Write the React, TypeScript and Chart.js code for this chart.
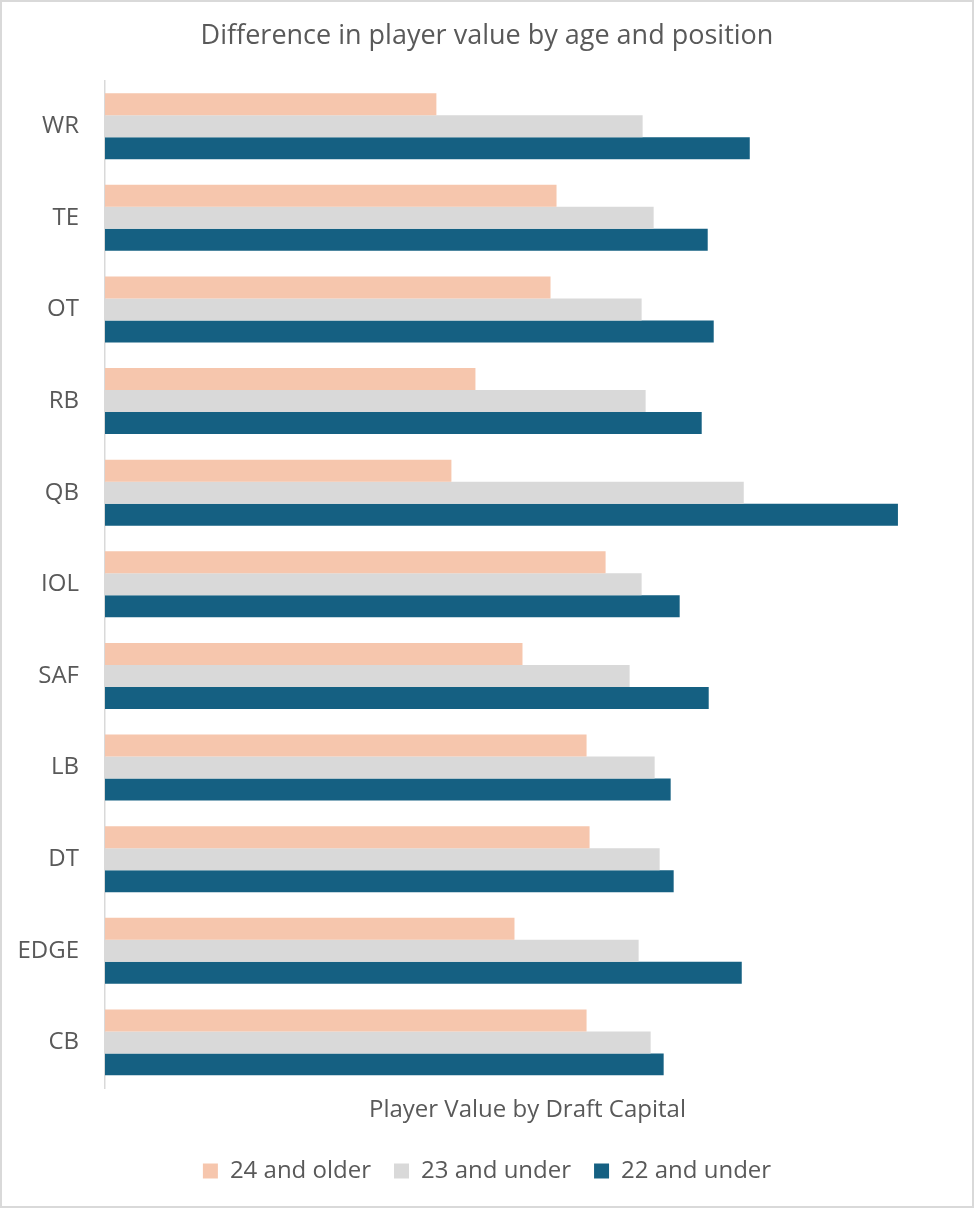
import React, { useEffect, useRef } from "react";
import { Chart, registerables } from "chart.js";

Chart.register(...registerables);

const categories = ["WR", "TE", "OT", "RB", "QB", "IOL", "SAF", "LB", "DT", "EDGE", "CB"];
const older24 = [331, 451, 445, 370, 346, 500, 417, 481, 484, 409, 481];
const under23 = [537, 548, 536, 540, 638, 536, 524, 549, 554, 533, 545];
const under22 = [644, 602, 608, 596, 792, 574, 603, 565, 568, 636, 558];
const seriesNames = ["24 and older", "23 and under", "22 and under"];

const FONT = "'Open Sans', 'Noto Sans', sans-serif";
const TEXT = "#595959";

const borderPlugin = {
  id: "outerBorder",
  afterDraw(chart: any) {
    const { ctx, width, height } = chart;
    ctx.save();
    ctx.strokeStyle = "#d9d9d9";
    ctx.lineWidth = 2;
    ctx.strokeRect(1, 1, width - 2, height - 2);
    ctx.restore();
  },
};

export default function App() {
  const ref = useRef<HTMLCanvasElement | null>(null);
  useEffect(() => {
    if (!ref.current) return;
    const chart = new Chart(ref.current, {
      type: "bar",
      data: {
        labels: categories,
        datasets: [
          { label: seriesNames[0], data: older24, backgroundColor: "#F6C6AD" },
          { label: seriesNames[1], data: under23, backgroundColor: "#D9D9D9" },
          { label: seriesNames[2], data: under22, backgroundColor: "#156082" },
        ],
      },
      options: {
        indexAxis: "y",
        animation: false,
        responsive: false,
        maintainAspectRatio: false,
        datasets: { bar: { categoryPercentage: 0.72, barPercentage: 1 } },
        layout: { padding: { top: 15, right: 0, bottom: 15, left: 0 } },
        scales: {
          x: {
            min: 0,
            max: 844,
            grid: { display: false },
            border: { display: false },
            ticks: { display: false },
            title: {
              display: true,
              text: "Player Value by Draft Capital",
              color: TEXT,
              font: { family: FONT, size: 24 },
              padding: { top: 0, bottom: 11 },
            },
          },
          y: {
            grid: { display: false },
            border: { display: true, color: "#d9d9d9", width: 1.5 },
            ticks: { color: TEXT, font: { family: FONT, size: 24 }, padding: 18 },
            afterFit: (s: any) => {
              s.width = 105;
            },
          },
          y2: {
            type: "linear",
            position: "right",
            display: true,
            grid: { display: false },
            border: { display: false },
            ticks: { display: false },
            afterFit: (s: any) => {
              s.width = 24;
            },
          },
        },
        plugins: {
          title: {
            display: true,
            text: "Difference in player value by age and position",
            color: TEXT,
            font: { family: FONT, size: 27, weight: "normal" },
            padding: { top: 5, bottom: 28 },
          },
          legend: {
            position: "bottom",
            labels: {
              color: TEXT,
              font: { family: FONT, size: 24 },
              boxWidth: 15,
              boxHeight: 15,
              padding: 23,
            },
          },
          tooltip: { enabled: false },
        },
      },
      plugins: [borderPlugin],
    });
    return () => chart.destroy();
  }, []);
  return (
    <div style={{ position: "absolute", left: 0, top: 0, width: 974, height: 1208, background: "#fff" }}>
      <canvas ref={ref} width={974} height={1208} style={{ width: 974, height: 1208, display: "block" }} />
    </div>
  );
}
